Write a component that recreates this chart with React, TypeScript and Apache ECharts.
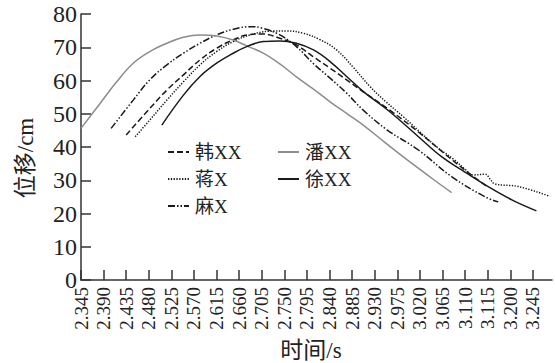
import React, { useEffect, useRef } from "react";
import * as echarts from "echarts";

// tick positions (s) and their printed labels (as in the original figure)
const tickTimes = [2.345, 2.39, 2.435, 2.48, 2.525, 2.57, 2.615, 2.66, 2.705, 2.75, 2.795, 2.84, 2.885, 2.93, 2.975, 3.02, 3.065, 3.11, 3.155, 3.2, 3.245];
const tickLabels = ["2.345", "2.390", "2.435", "2.480", "2.525", "2.570", "2.615", "2.660", "2.705", "2.750", "2.795", "2.840", "2.885", "2.930", "2.975", "3.020", "3.065", "3.110", "3.115", "3.200", "3.245"];

const seriesNames = ["韩XX", "蒋X", "麻X", "潘XX", "徐XX"];

const han: [number, number][] = [
  [2.435, 43.6], [2.482, 51.6], [2.516, 57.1], [2.549, 61.7], [2.582, 66.2], [2.615, 69.7], [2.648, 72.2], [2.675, 73.7], [2.707, 74.0], [2.741, 72.7], [2.774, 70.7], [2.807, 67.2], [2.841, 63.7], [2.874, 60.2], [2.907, 56.6], [2.96, 51.1], [3.017, 44.5], [3.065, 38.5], [3.11, 33.0], [3.152, 28.3],
];
const jiang: [number, number][] = [
  [2.453, 43.1], [2.482, 48.1], [2.516, 54.1], [2.549, 59.6], [2.582, 64.7], [2.615, 68.7], [2.648, 71.7], [2.682, 73.7], [2.719, 74.8], [2.755, 74.9], [2.788, 74.2], [2.822, 72.2], [2.854, 69.2], [2.887, 64.0], [2.921, 58.1], [2.953, 53.5], [2.987, 49.1], [3.02, 44.5], [3.053, 40.1], [3.088, 36.2], [3.11, 33.3], [3.126, 31.6], [3.15, 31.8], [3.16, 30.3], [3.169, 28.9], [3.216, 28.1], [3.276, 25.3],
];
const ma: [number, number][] = [
  [2.405, 45.6], [2.449, 54.1], [2.482, 60.2], [2.516, 64.7], [2.549, 68.2], [2.582, 71.2], [2.615, 73.7], [2.648, 75.4], [2.682, 76.2], [2.707, 75.7], [2.741, 73.7], [2.774, 70.2], [2.807, 65.2], [2.841, 60.7], [2.874, 56.2], [2.907, 51.1], [2.955, 45.1], [3.017, 39.1], [3.083, 31.1], [3.15, 25.0], [3.176, 23.5],
];
const pan: [number, number][] = [
  [2.345, 45.6], [2.383, 53.1], [2.416, 59.6], [2.449, 65.2], [2.482, 68.7], [2.516, 71.2], [2.549, 73.0], [2.582, 73.7], [2.615, 73.4], [2.648, 72.2], [2.675, 70.4], [2.707, 68.3], [2.741, 65.0], [2.774, 61.1], [2.808, 57.4], [2.841, 53.6], [2.874, 50.1], [2.907, 46.6], [2.95, 41.4], [2.983, 37.5], [3.016, 33.7], [3.049, 30.0], [3.083, 26.3],
];
const xu: [number, number][] = [
  [2.506, 46.6], [2.549, 55.6], [2.582, 61.2], [2.615, 65.2], [2.648, 68.2], [2.675, 70.2], [2.708, 71.7], [2.741, 71.9], [2.774, 71.2], [2.808, 69.2], [2.841, 65.7], [2.874, 61.2], [2.908, 56.6], [2.96, 50.6], [3.017, 43.1], [3.063, 37.1], [3.103, 33.1], [3.15, 28.6], [3.203, 24.1], [3.252, 20.8],
];

const SERIF = "'Liberation Serif', 'Times New Roman', 'Noto Sans CJK SC', serif";
const BLACK = "#1a1a1a";
const GRAY = "#8c8c8c";

export default function App() {
  const ref = useRef<HTMLDivElement>(null);
  useEffect(() => {
    if (!ref.current) return;
    const chart = echarts.init(ref.current, undefined, { renderer: "svg" });
    const mk = (name: string, data: [number, number][], color: string, type: any) => ({
      name,
      type: "line",
      data,
      smooth: 0.4,
      symbol: "none",
      showSymbol: false,
      lineStyle: { color, width: 1.5, type },
      itemStyle: { color },
    });
    const legendBase = {
      orient: "vertical",
      top: 137,
      itemWidth: 21,
      itemHeight: 14,
      itemGap: 7,
      selectedMode: false,
      itemStyle: { color: "rgba(0,0,0,0)", borderWidth: 0, borderColor: "rgba(0,0,0,0)" },
      textStyle: { fontFamily: SERIF, fontSize: 19, color: "#222", lineHeight: 20, padding: [0, 0, 0, 1] },
    };
    chart.setOption({
      animation: false,
      backgroundColor: "#fff",
      grid: { left: 81, right: 3, top: 14, bottom: 83, containLabel: false },
      legend: [
        { ...legendBase, left: 162, data: [seriesNames[0], seriesNames[1], seriesNames[2]] },
        { ...legendBase, left: 272, data: [seriesNames[3], seriesNames[4]] },
      ],
      xAxis: {
        type: "value",
        min: tickTimes[0],
        max: 3.283,
        axisLine: { show: true, onZero: false, lineStyle: { color: "#333", width: 1.5 } },
        axisTick: { show: true, inside: true, length: 10, customValues: tickTimes, lineStyle: { color: "#333", width: 1.5 } },
        axisLabel: {
          customValues: tickTimes,
          rotate: 90,
          margin: 7,
          fontFamily: SERIF,
          fontSize: 19,
          color: "#222",
          formatter: (v: number) => {
            const i = tickTimes.findIndex((t) => Math.abs(t - v) < 1e-6);
            return i >= 0 ? tickLabels[i] : "";
          },
        },
        splitLine: { show: false },
      },
      yAxis: {
        type: "value",
        min: 0,
        max: 80,
        interval: 10,
        axisLine: { show: true, lineStyle: { color: "#333", width: 1.5 } },
        axisTick: { show: true, inside: true, length: 10, lineStyle: { color: "#333", width: 1.5 } },
        axisLabel: { margin: 4, fontFamily: SERIF, fontSize: 24, color: "#222" },
        splitLine: { show: false },
      },
      graphic: [
        { type: "text", x: 311, y: 350, style: { text: "时间/s", font: `23px ${SERIF}`, fill: "#222", align: "center", verticalAlign: "middle" } },
        { type: "text", x: 25, y: 158, rotation: Math.PI / 2, style: { text: "位移/cm", font: `23px ${SERIF}`, fill: "#222", align: "center", verticalAlign: "middle" } },
      ],
      series: [
        mk(seriesNames[0], han, BLACK, [6, 3]),
        mk(seriesNames[1], jiang, BLACK, [1.3, 1.5]),
        mk(seriesNames[2], ma, BLACK, [7, 2, 1.5, 2, 1.5, 2]),
        mk(seriesNames[3], pan, GRAY, "solid"),
        mk(seriesNames[4], xu, BLACK, "solid"),
      ],
    });
    return () => chart.dispose();
  }, []);
  return <div ref={ref} style={{ width: 555, height: 363, position: "absolute", left: 0, top: 0 }} />;
}
